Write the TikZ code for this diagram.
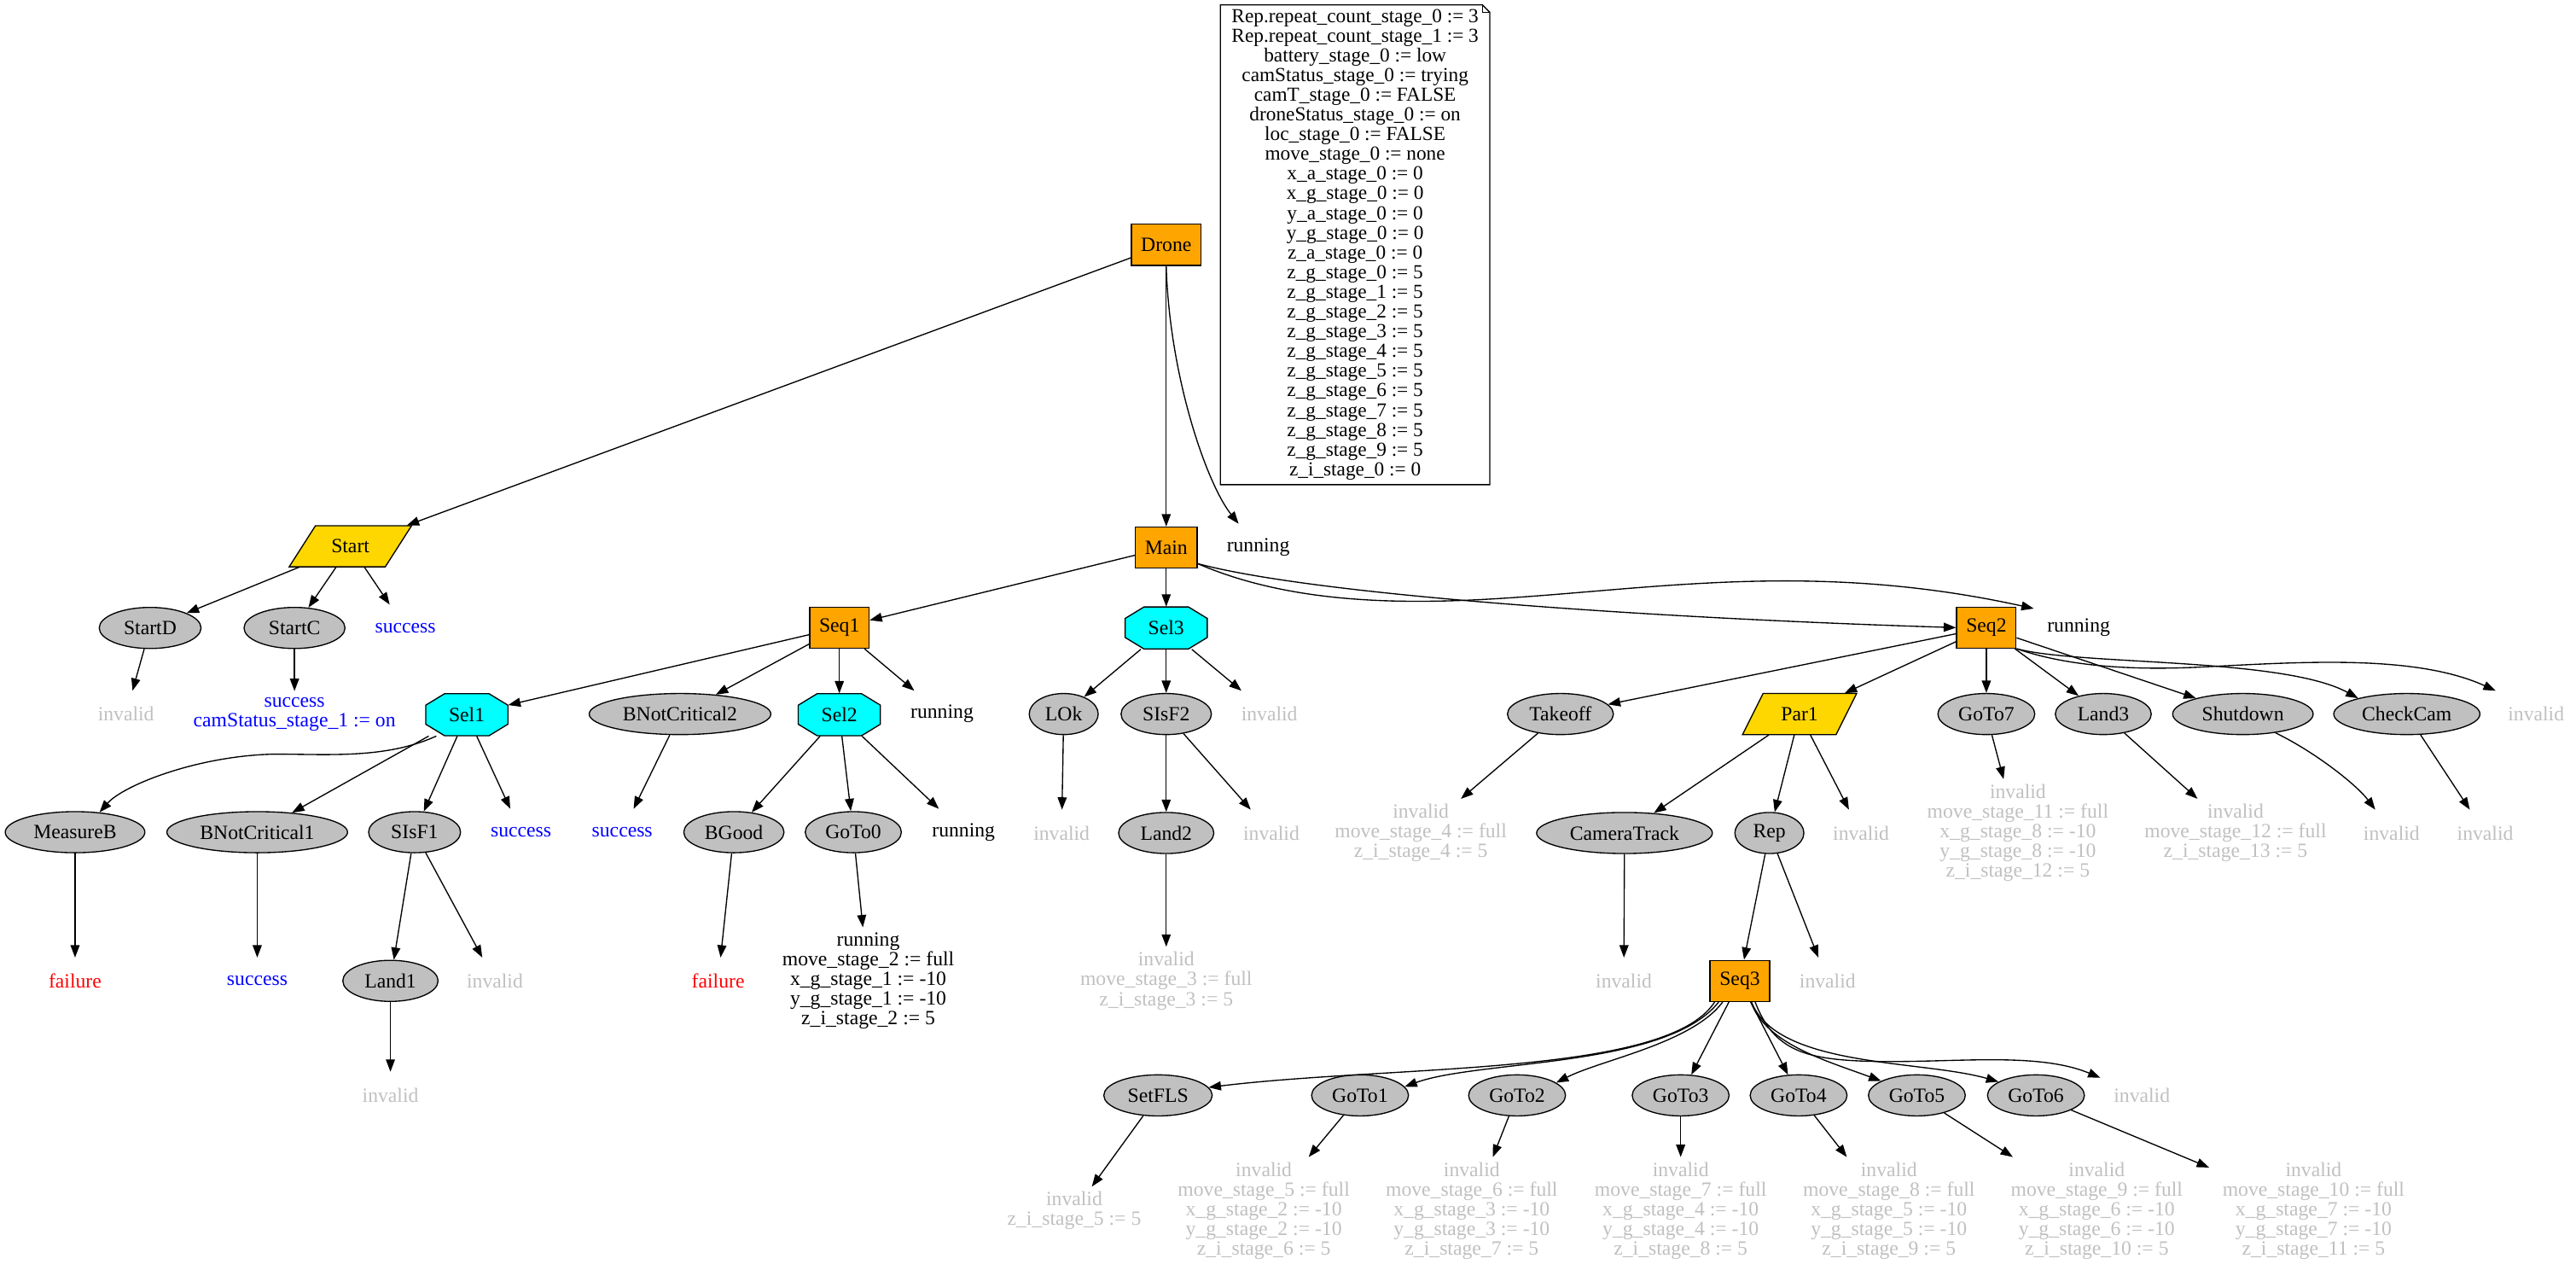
\documentclass[tikz,border=0pt]{standalone}
\usepackage{fontspec}
\setmainfont{Liberation Serif}
\usetikzlibrary{shapes.geometric,arrows.meta}
\definecolor{gvorange}{HTML}{FFA500}
\definecolor{gvgold}{HTML}{FFD700}
\definecolor{gvcyan}{HTML}{00FFFF}
\definecolor{gvgray}{HTML}{C0C0C0}
\definecolor{gvtext}{HTML}{C0C0C0}
\newcommand{\gvfont}{\fontsize{12.3}{12}\selectfont\lineskiplimit-50pt\relax}
\newcommand{\gvnotefont}{\fontsize{12.1}{12}\selectfont\lineskiplimit-50pt\relax}
\newcommand{\octnode}[4]{%
  \draw[line width=0.7pt, fill=gvcyan] ({#2-25},{#3-5.8}) -- ({#2-13.5},{#3-12.8}) -- ({#2+13.5},{#3-12.8}) -- ({#2+25},{#3-5.8}) -- ({#2+25},{#3+5.8}) -- ({#2+13.5},{#3+12.8}) -- ({#2-13.5},{#3+12.8}) -- ({#2-25},{#3+5.8}) -- cycle;
  \node[anchorbox, minimum width=50, minimum height=25.6] (#1) at (#2,#3) {#4};}
\newcommand{\parnode}[6]{%
  \draw[line width=0.7pt, fill=gvgold] ({#2-#4},{#3+12.5}) -- ({#2+#4-#5},{#3+12.5}) -- ({#2+#4},{#3-12.5}) -- ({#2-#4+#5},{#3-12.5}) -- cycle;
  \node[anchorbox, minimum width={2*#4}, minimum height=25] (#1) at (#2,#3) {#6};}
\begin{document}
\begin{tikzpicture}[x=1pt,y=-1pt,
  font=\gvfont,
  anchorbox/.style={rectangle, inner sep=0pt},
  obox/.style={rectangle, draw, line width=0.7pt, fill=gvorange, minimum height=25, inner xsep=5.8pt, inner ysep=0pt},
  ell/.style={ellipse, draw, line width=0.7pt, fill=gvgray, minimum height=25, inner sep=0pt},
  lbl/.style={rectangle, inner xsep=8pt, inner ysep=3pt, minimum height=28, align=center},
  inv/.style={lbl, text=gvtext},
  suc/.style={lbl, text=blue},
  fail/.style={lbl, text=red},
  edge/.style={line width=0.7pt, -{Triangle[length=7.5pt,width=5.5pt]}}
]
\useasboundingbox (0,0) rectangle (1568.3,772.5);

% note
\draw[line width=0.7pt] (743,3) -- (902.5,3) -- (907,7.5) -- (907,295) -- (743,295) -- cycle;
\draw[line width=0.7pt] (902.5,3) -- (902.5,7.5) -- (907,7.5);
\node[inner sep=0pt, align=center, font=\gvnotefont] (note) at (825,148.8) {%
Rep.repeat\_count\_stage\_0 := 3\\
Rep.repeat\_count\_stage\_1 := 3\\
battery\_stage\_0 := low\\
camStatus\_stage\_0 := trying\\
camT\_stage\_0 := FALSE\\
droneStatus\_stage\_0 := on\\
loc\_stage\_0 := FALSE\\
move\_stage\_0 := none\\
x\_a\_stage\_0 := 0\\
x\_g\_stage\_0 := 0\\
y\_a\_stage\_0 := 0\\
y\_g\_stage\_0 := 0\\
z\_a\_stage\_0 := 0\\
z\_g\_stage\_0 := 5\\
z\_g\_stage\_1 := 5\\
z\_g\_stage\_2 := 5\\
z\_g\_stage\_3 := 5\\
z\_g\_stage\_4 := 5\\
z\_g\_stage\_5 := 5\\
z\_g\_stage\_6 := 5\\
z\_g\_stage\_7 := 5\\
z\_g\_stage\_8 := 5\\
z\_g\_stage\_9 := 5\\
z\_i\_stage\_0 := 0};

% row 1
\node[obox] (drone) at (710,149) {Drone};
% row 2
\parnode{start}{213.3}{332.5}{37.25}{16}{Start}
\node[obox] (main) at (710,333.3) {Main};
\node[lbl] (r0) at (766,333) {running};
% row 3
\node[ell, minimum width=62] (startd) at (91.4,382.2) {StartD};
\node[ell, minimum width=61.5] (startc) at (179.3,382.2) {StartC};
\node[suc] (s0) at (246.8,382.2) {success};
\node[obox] (seq1) at (511,382) {Seq1};
\octnode{sel3}{710}{382.2}{Sel3}
\node[obox] (seq2) at (1209.3,382) {Seq2};
\node[lbl] (r1) at (1265.5,382) {running};
% row 4
\node[inv] (i1) at (76.7,434.6) {invalid};
\node[suc] (t1) at (179.3,434.8) {success\\camStatus\_stage\_1 := on};
\octnode{sel1}{284.2}{435}{Sel1}
\node[ell, minimum width=110.6] (bnc2) at (414,434.6) {BNotCritical2};
\octnode{sel2}{511}{435}{Sel2}
\node[lbl] (r2) at (573.5,434.6) {running};
\node[ell, minimum width=42] (lok) at (647.6,434.6) {LOk};
\node[ell, minimum width=55] (sisf2) at (710,434.6) {SIsF2};
\node[inv] (i2) at (772.8,434.6) {invalid};
\node[ell, minimum width=64.5] (takeoff) at (950,434.6) {Takeoff};
\parnode{par1}{1095.6}{434.6}{34.7}{12.5}{Par1}
\node[ell, minimum width=59] (goto7) at (1209.3,434.6) {GoTo7};
\node[ell, minimum width=58.4] (land3) at (1280.5,434.6) {Land3};
\node[ell, minimum width=85.5] (shutdown) at (1365.5,434.6) {Shutdown};
\node[ell, minimum width=89] (checkcam) at (1465.3,434.6) {CheckCam};
\node[inv] (i3) at (1544,434.6) {invalid};
% row 5
\node[ell, minimum width=85] (measureb) at (45.7,506.5) {MeasureB};
\node[ell, minimum width=110] (bnc1) at (156.6,506.5) {BNotCritical1};
\node[ell, minimum width=56] (sisf1) at (252.4,506.5) {SIsF1};
\node[suc] (s1) at (317.2,506.5) {success};
\node[suc] (s2) at (378.8,506.5) {success};
\node[ell, minimum width=61] (bgood) at (446.8,506.5) {BGood};
\node[ell, minimum width=58.5] (goto0) at (519.5,506.5) {GoTo0};
\node[lbl] (r3) at (586.6,506.5) {running};
\node[inv] (i4) at (646.3,507) {invalid};
\node[ell, minimum width=58] (land2) at (710,507) {Land2};
\node[inv] (i5) at (774,507) {invalid};
\node[inv] (t4) at (865,507) {invalid\\move\_stage\_4 := full\\z\_i\_stage\_4 := 5};
\node[ell, minimum width=107] (cameratrack) at (989,507) {CameraTrack};
\node[ell, minimum width=42] (rep) at (1077.2,507) {Rep};
\node[inv] (i6) at (1133,507) {invalid};
\node[inv] (t7) at (1228.5,507) {invalid\\move\_stage\_11 := full\\x\_g\_stage\_8 := -10\\y\_g\_stage\_8 := -10\\z\_i\_stage\_12 := 5};
\node[inv] (t8) at (1361,507) {invalid\\move\_stage\_12 := full\\z\_i\_stage\_13 := 5};
\node[inv] (i7) at (1456,507) {invalid};
\node[inv] (i8) at (1513,507) {invalid};
% row 6
\node[fail] (f1) at (45.7,597) {failure};
\node[suc] (s3) at (156.6,597) {success};
\node[ell, minimum width=58] (land1) at (237.7,597) {Land1};
\node[inv] (i9) at (301.3,597) {invalid};
\node[fail] (f2) at (437.2,597) {failure};
\node[lbl] (t0) at (528.6,597) {running\\move\_stage\_2 := full\\x\_g\_stage\_1 := -10\\y\_g\_stage\_1 := -10\\z\_i\_stage\_2 := 5};
\node[inv] (t3) at (710,597) {invalid\\move\_stage\_3 := full\\z\_i\_stage\_3 := 5};
\node[inv] (i10) at (988.6,597) {invalid};
\node[obox] (seq3) at (1059.2,597) {Seq3};
\node[inv] (i11) at (1112.6,597) {invalid};
% row 7
\node[inv] (i12) at (237.7,666.5) {invalid};
\node[ell, minimum width=66] (setfls) at (705,666.7) {SetFLS};
\node[ell, minimum width=59] (goto1) at (828,666.7) {GoTo1};
\node[ell, minimum width=59] (goto2) at (923.6,666.7) {GoTo2};
\node[ell, minimum width=59] (goto3) at (1023.2,666.7) {GoTo3};
\node[ell, minimum width=59] (goto4) at (1095,666.7) {GoTo4};
\node[ell, minimum width=59] (goto5) at (1167,666.7) {GoTo5};
\node[ell, minimum width=59] (goto6) at (1239.5,666.7) {GoTo6};
\node[inv] (i13) at (1304,666.7) {invalid};
% row 8
\node[inv] (t5) at (654,737) {invalid\\z\_i\_stage\_5 := 5};
\node[inv] (g1t) at (769.4,737) {invalid\\move\_stage\_5 := full\\x\_g\_stage\_2 := -10\\y\_g\_stage\_2 := -10\\z\_i\_stage\_6 := 5};
\node[inv] (g2t) at (896,737) {invalid\\move\_stage\_6 := full\\x\_g\_stage\_3 := -10\\y\_g\_stage\_3 := -10\\z\_i\_stage\_7 := 5};
\node[inv] (g3t) at (1023.2,737) {invalid\\move\_stage\_7 := full\\x\_g\_stage\_4 := -10\\y\_g\_stage\_4 := -10\\z\_i\_stage\_8 := 5};
\node[inv] (g4t) at (1150,737) {invalid\\move\_stage\_8 := full\\x\_g\_stage\_5 := -10\\y\_g\_stage\_5 := -10\\z\_i\_stage\_9 := 5};
\node[inv] (g5t) at (1276.5,737) {invalid\\move\_stage\_9 := full\\x\_g\_stage\_6 := -10\\y\_g\_stage\_6 := -10\\z\_i\_stage\_10 := 5};
\node[inv] (g6t) at (1408.5,737) {invalid\\move\_stage\_10 := full\\x\_g\_stage\_7 := -10\\y\_g\_stage\_7 := -10\\z\_i\_stage\_11 := 5};

% edges
\draw[edge] (drone) -- (start);
\draw[edge] (drone) -- (main);
\draw[edge] (drone.south) .. controls (712,230) and (735,295) .. (r0.130);
\draw[edge] (start) -- (startd);
\draw[edge] (start) -- (startc);
\draw[edge] (start) -- (s0);
\draw[edge] (startd) -- (i1);
\draw[edge] (startc) -- (t1);
\draw[edge] (main) -- (seq1);
\draw[edge] (main) -- (sel3);
\draw[edge] (main.333) .. controls (800,362) and (1000,376) .. (seq2.west);
\draw[edge] (main.333) .. controls (780,365) and (840,368) .. (900,365) .. controls (1000,360) and (1100,340) .. (r1.157);
\draw[edge] (seq1) -- (sel1);
\draw[edge] (seq1) -- (bnc2);
\draw[edge] (seq1) -- (sel2);
\draw[edge] (seq1) -- (r2);
\draw[edge] (sel1.215) .. controls (235,462) and (200,459) .. (167,459) .. controls (120,460) and (75,478) .. (measureb.39);
\draw[edge] (sel1) -- (bnc1);
\draw[edge] (sel1) -- (sisf1);
\draw[edge] (sel1) -- (s1);
\draw[edge] (bnc2) -- (s2);
\draw[edge] (sel2) -- (bgood);
\draw[edge] (sel2) -- (goto0);
\draw[edge] (sel2) -- (r3);
\draw[edge] (measureb) -- (f1);
\draw[edge] (bnc1) -- (s3);
\draw[edge] (sisf1) -- (land1);
\draw[edge] (sisf1) -- (i9);
\draw[edge] (land1) -- (i12);
\draw[edge] (bgood) -- (f2);
\draw[edge] (goto0) -- (t0);
\draw[edge] (sel3) -- (lok);
\draw[edge] (sel3) -- (sisf2);
\draw[edge] (sel3) -- (i2);
\draw[edge] (lok) -- (i4);
\draw[edge] (sisf2) -- (land2);
\draw[edge] (sisf2) -- (i5);
\draw[edge] (land2) -- (t3);
\draw[edge] (seq2) -- (takeoff);
\draw[edge] (seq2) -- (par1);
\draw[edge] (seq2) -- (goto7);
\draw[edge] (seq2) -- (land3);
\draw[edge] (seq2) -- (shutdown);
\draw[edge] (seq2.south east) .. controls (1265,405) and (1390,400) .. (checkcam.162);
\draw[edge] (seq2.south east) .. controls (1260,406) and (1300,408) .. (1340,406) .. controls (1400,403) and (1470,398) .. (i3.150);
\draw[edge] (takeoff) -- (t4);
\draw[edge] (par1) -- (cameratrack);
\draw[edge] (par1) -- (rep);
\draw[edge] (par1) -- (i6);
\draw[edge] (cameratrack) -- (i10);
\draw[edge] (rep) -- (seq3);
\draw[edge] (rep) -- (i11);
\draw[edge] (goto7) -- (t7);
\draw[edge] (land3) -- (t8);
\draw[edge] (shutdown.-30) .. controls (1410,458) and (1435,478) .. (i7.125);
\draw[edge] (checkcam) -- (i8);
\draw[edge] (seq3.220) .. controls (1015,655) and (850,648) .. (setfls.9);
\draw[edge] (seq3.225) .. controls (1015,650) and (900,645) .. (goto1.11);
\draw[edge] (seq3.231) .. controls (1030,635) and (975,645) .. (goto2.18);
\draw[edge] (seq3) -- (goto3);
\draw[edge] (seq3) -- (goto4);
\draw[edge] (seq3.298) .. controls (1075,635) and (1110,645) .. (goto5.158);
\draw[edge] (seq3.299) .. controls (1082,650) and (1170,645) .. (goto6.160);
\draw[edge] (seq3.306) .. controls (1080,640) and (1100,645) .. (1140,646) .. controls (1190,647) and (1240,640) .. (i13.157);
\draw[edge] (setfls) -- (t5);
\draw[edge] (goto1) -- (g1t);
\draw[edge] (goto2) -- (g2t);
\draw[edge] (goto3) -- (g3t);
\draw[edge] (goto4) -- (g4t);
\draw[edge] (goto5) -- (g5t);
\draw[edge] (goto6) -- (g6t);
\end{tikzpicture}
\end{document}
